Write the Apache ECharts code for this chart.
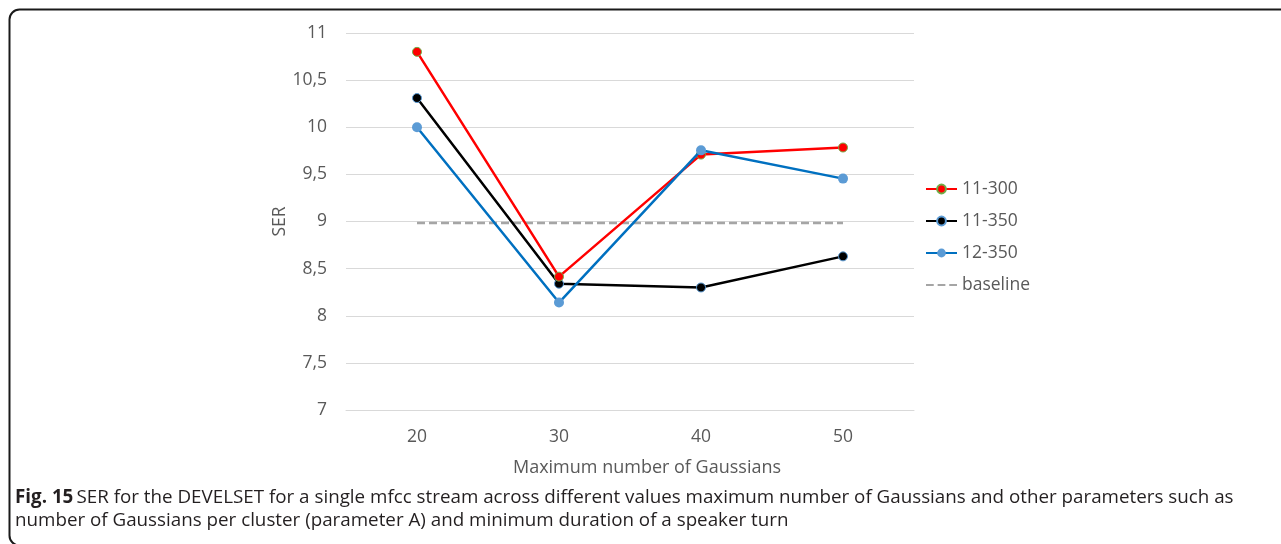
<!DOCTYPE html>
<html><head><meta charset="utf-8">
<script src="https://cdn.jsdelivr.net/npm/echarts@6/dist/echarts.min.js"></script>
<style>html,body{margin:0;padding:0;background:#fff}#c{width:1281px;height:544px}</style>
</head><body><div id="c"></div>
<script>
var categories = ['20', '30', '40', '50'];
var s11_300 = [10.8, 8.415, 9.71, 9.785];
var s11_350 = [10.31, 8.34, 8.30, 8.63];
var s12_350 = [10.0, 8.14, 9.755, 9.455];
var baseline = [8.985, 8.985, 8.985, 8.985];
var yTicks = {min: 7, max: 11, interval: 0.5};

var chart = echarts.init(document.getElementById('c'), null, {renderer: 'canvas'});
var font = '"Open Sans", sans-serif';
var txt = '#595959';
var fs = 17.5;
var cfs = 18.8;
chart.setOption({
  animation: false,
  graphic: [
    {type: 'rect', shape: {x: 9.5, y: 9.5, width: 1300, height: 536, r: 10}, style: {fill: 'none', stroke: '#1a1a1a', lineWidth: 2}, z: -1},
    {type: 'text', left: 15, top: 488, style: {rich: {b: {fontWeight: 'bold', fontFamily: font, fontSize: cfs, fill: '#231f20'}, n: {fontFamily: font, fontSize: cfs, fill: '#231f20'}},
      text: '{b|Fig. 15} {n|SER for the DEVELSET for a single mfcc stream across different values maximum number of Gaussians and other parameters such as}', fontFamily: font}},
    {type: 'text', left: 15, top: 511, style: {text: 'number of Gaussians per cluster (parameter A) and minimum duration of a speaker turn', fontFamily: font, fontSize: cfs, fill: '#231f20'}}
  ],
  grid: {left: 346, right: 367, top: 33, bottom: 134},
  legend: {
    orient: 'vertical', left: 920, top: 174, itemWidth: 31, itemHeight: 11, itemGap: 12,
    textStyle: {fontFamily: font, fontSize: fs, color: txt, lineHeight: 20},
    data: ['11-300', '11-350', '12-350', {name: 'baseline', icon: 'path://M0,6h8v2h-8zM12,6h8v2h-8zM24,6h8v2h-8z'}]
  },
  xAxis: {
    type: 'category', data: categories, boundaryGap: true,
    name: 'Maximum number of Gaussians', nameLocation: 'middle', nameGap: 49,
    nameTextStyle: {fontFamily: font, fontSize: 18, color: txt, padding: [0, 0, 0, 34]},
    axisLine: {show: true, lineStyle: {color: '#d9d9d9', width: 1}},
    axisTick: {show: false},
    axisLabel: {fontFamily: font, fontSize: fs, color: txt, margin: 18}
  },
  yAxis: {
    type: 'value', min: yTicks.min, max: yTicks.max, interval: yTicks.interval,
    name: 'SER', nameLocation: 'middle', nameGap: 56, nameRotate: 90,
    nameTextStyle: {fontFamily: font, fontSize: fs, color: txt},
    axisLine: {show: false}, axisTick: {show: false},
    axisLabel: {fontFamily: font, fontSize: fs, color: txt, margin: 19,
      formatter: function (v) { return String(v).replace('.', ','); }},
    splitLine: {lineStyle: {color: '#d9d9d9', width: 1}}
  },
  series: [
    {name: '11-300', type: 'line', data: s11_300, symbol: 'circle', symbolSize: 9,
      lineStyle: {color: '#ff0000', width: 2.5}, itemStyle: {color: '#ff0000', borderColor: '#70ad47', borderWidth: 1}, z: 4},
    {name: '11-350', type: 'line', data: s11_350, symbol: 'circle', symbolSize: 9,
      lineStyle: {color: '#000000', width: 2.5}, itemStyle: {color: '#000000', borderColor: '#5b9bd5', borderWidth: 1}, z: 3},
    {name: '12-350', type: 'line', data: s12_350, symbol: 'circle', symbolSize: 10,
      lineStyle: {color: '#0070c0', width: 2.5}, itemStyle: {color: '#5b9bd5', borderWidth: 0}, z: 5},
    {name: 'baseline', type: 'line', data: baseline, symbol: 'none', showSymbol: false,
      lineStyle: {color: '#a5a5a5', width: 2.5, type: [8, 4]}, itemStyle: {color: '#a5a5a5'}, z: 2}
  ]
});
</script></body></html>
